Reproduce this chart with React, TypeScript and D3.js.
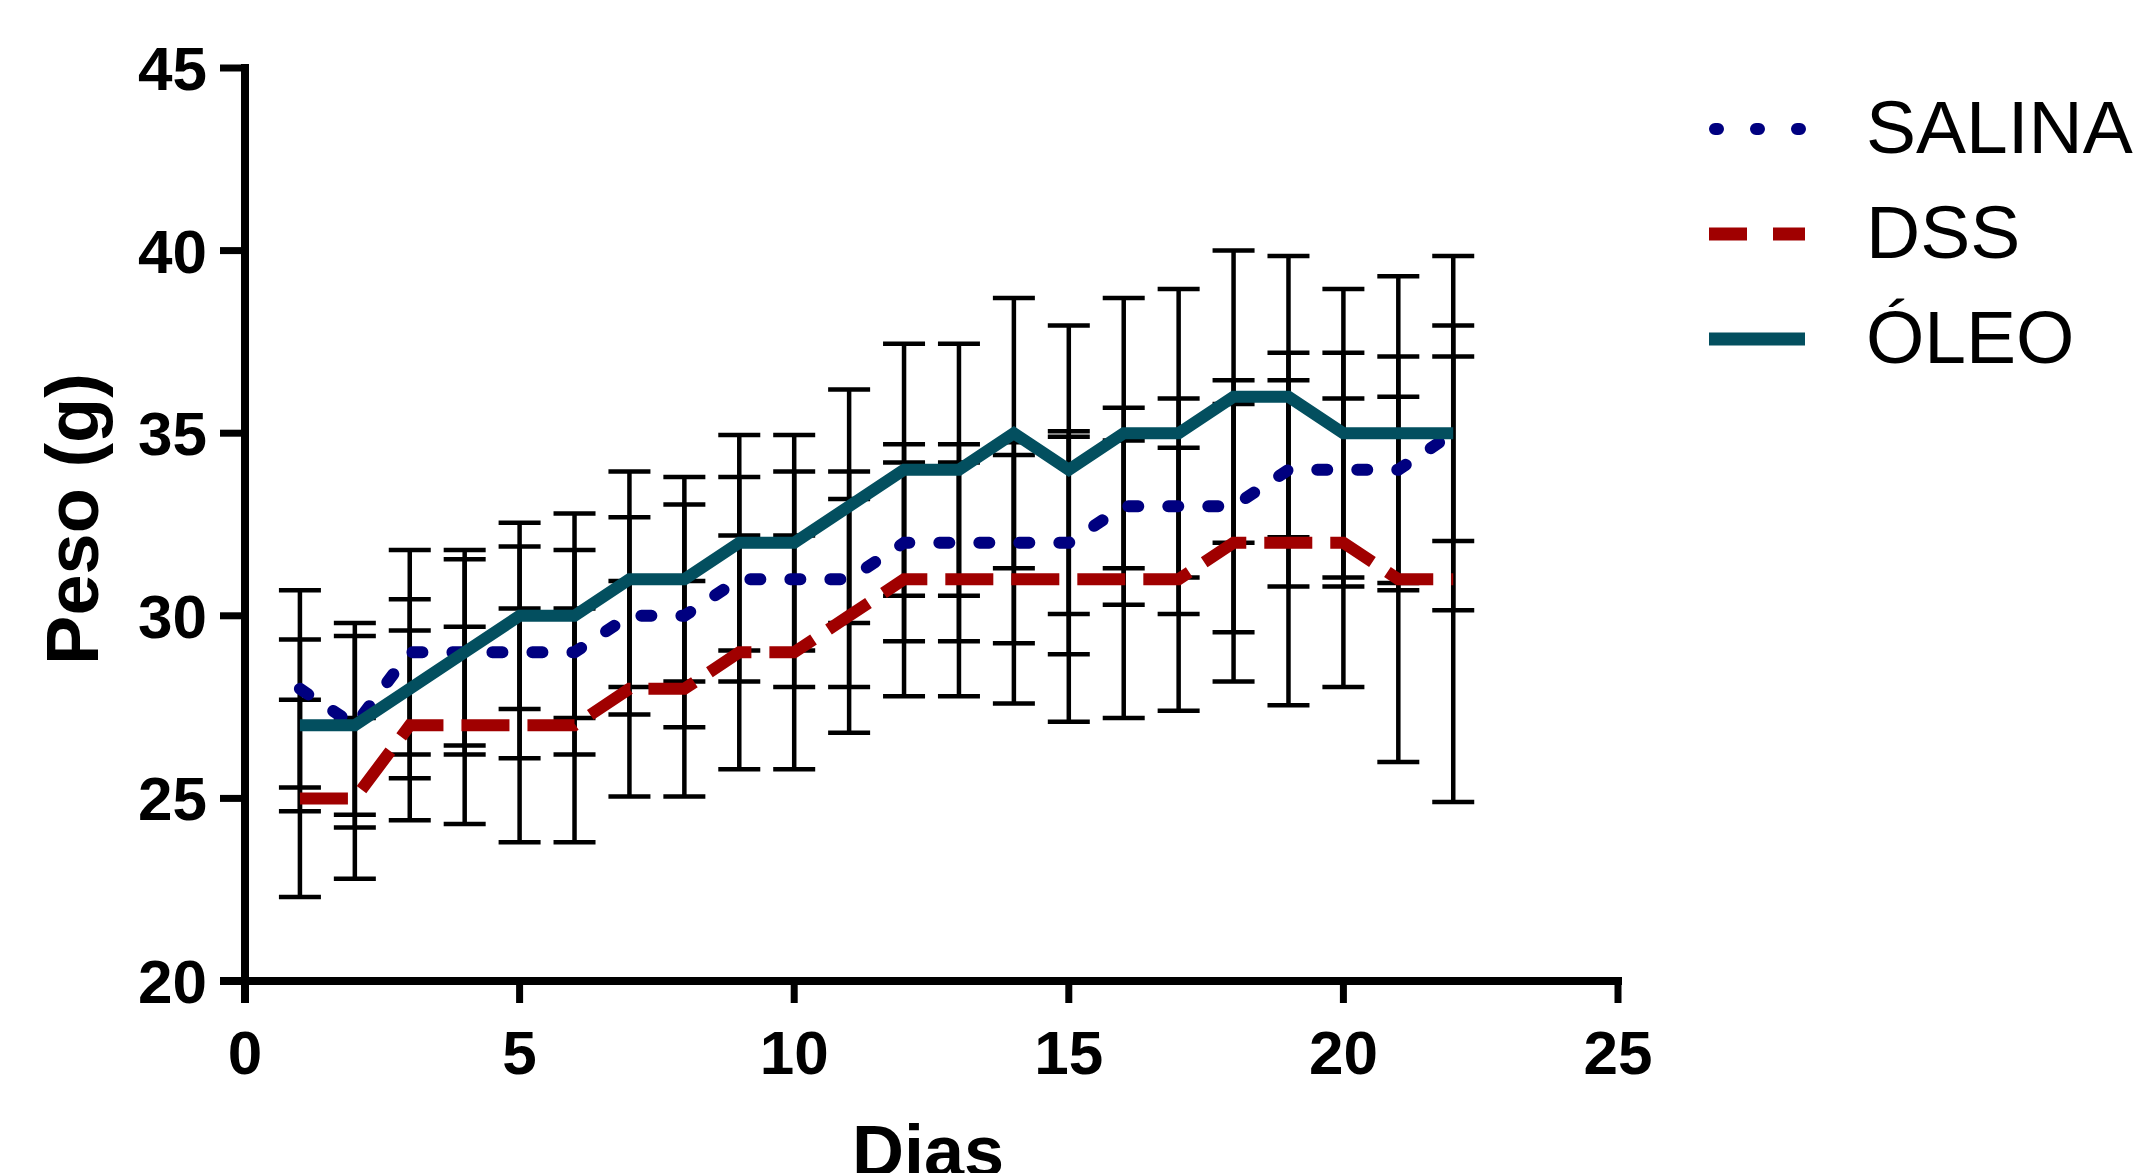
import React from 'react';
import * as d3 from 'd3';

// days of measurement
const days = [1, 2, 3, 4, 5, 6, 7, 8, 9, 10, 11, 12, 13, 14, 15, 16, 17, 18, 19, 20, 21, 22];

// mean weight (g) and SD per group
const salinaMean = [28, 27, 29, 29, 29, 29, 30, 30, 31, 31, 31, 32, 32, 32, 32, 33, 33, 33, 34, 34, 34, 35];
const salinaSD = [2.7, 2.8, 2.8, 2.8, 2.9, 2.8, 2.7, 3.05, 2.8, 2.95, 2.95, 2.7, 2.7, 2.75, 3.05, 2.7, 2.95, 3.45, 3.2, 3.2, 3.1, 2.95];
const dssMean = [25, 25, 27, 27, 27, 27, 28, 28, 29, 29, 30, 31, 31, 31, 31, 31, 31, 32, 32, 32, 31, 31];
const dssSD = [2.7, 2.2, 2.6, 2.7, 3.2, 3.2, 2.95, 2.95, 3.2, 3.2, 3.2, 3.2, 3.2, 3.4, 3.9, 3.8, 3.6, 3.8, 4.45, 3.95, 5.0, 6.1];
const oleoMean = [27, 27, 28, 29, 30, 30, 31, 31, 32, 32, 33, 34, 34, 35, 34, 35, 35, 36, 36, 35, 35, 35];
const oleoSD = [2.35, 2.45, 2.45, 2.55, 2.55, 2.8, 2.95, 2.8, 2.95, 2.95, 3.2, 3.45, 3.45, 3.7, 3.95, 3.7, 3.95, 4.0, 3.85, 3.95, 4.3, 4.85];

const xTicks = [0, 5, 10, 15, 20, 25];
const yTicks = [20, 25, 30, 35, 40, 45];

const seriesNames = ['SALINA', 'DSS', 'ÓLEO'];
const seriesColors = ['#000080', '#a00000', '#034f5f'];

const W = 2137;
const H = 1173;
const FONT = '"Liberation Sans", Arial, sans-serif';

const App = () => {
    const x = d3.scaleLinear().domain([0, 25]).range([245, 1618]);
    const y = d3.scaleLinear().domain([20, 45]).range([981, 68]);

    const series = [
        { name: seriesNames[0], color: seriesColors[0], mean: salinaMean, sd: salinaSD, dash: '10 30', cap: 'round', width: 12 },
        { name: seriesNames[1], color: seriesColors[1], mean: dssMean, sd: dssSD, dash: '48 18', cap: 'butt', width: 12 },
        { name: seriesNames[2], color: seriesColors[2], mean: oleoMean, sd: oleoSD, dash: null, cap: 'butt', width: 12 },
    ];

    const line = d3.line<number>()
        .x((_, i) => x(days[i]))
        .y(d => y(d));

    const legendDash = ['3 38', '38 26', null];
    const legendCap = ['round', 'butt', 'butt'];

    return (
        <svg width={W} height={H} style={{ position: 'absolute', left: 0, top: 0, background: '#fff' }}>
            {/* error bars */}
            {series.map(s => (
                <g key={'eb' + s.name} stroke="#000" strokeWidth={4.5}>
                    {days.map((d, i) => {
                        const cx = x(d);
                        const top = y(s.mean[i] + s.sd[i]);
                        const bot = y(s.mean[i] - s.sd[i]);
                        return (
                            <g key={d}>
                                <line x1={cx} x2={cx} y1={top} y2={bot} />
                                <line x1={cx - 21} x2={cx + 21} y1={top} y2={top} />
                                <line x1={cx - 21} x2={cx + 21} y1={bot} y2={bot} />
                            </g>
                        );
                    })}
                </g>
            ))}

            {/* series lines */}
            {series.map(s => (
                <path
                    key={'ln' + s.name}
                    d={line(s.mean) || ''}
                    fill="none"
                    stroke={s.color}
                    strokeWidth={s.width}
                    strokeDasharray={s.dash || undefined}
                    strokeLinecap={s.cap as any}
                    strokeLinejoin="miter"
                />
            ))}

            {/* y axis */}
            <line x1={x(0)} x2={x(0)} y1={y(45) - 4} y2={y(20) + 22} stroke="#000" strokeWidth={8} />
            {yTicks.map(t => (
                <g key={'yt' + t}>
                    <line x1={x(0) - 25} x2={x(0)} y1={y(t)} y2={y(t)} stroke="#000" strokeWidth={7} />
                    <text x={207} y={y(t) + 22} textAnchor="end" fontFamily={FONT} fontWeight="bold" fontSize={62}>{t}</text>
                </g>
            ))}

            {/* x axis */}
            <line x1={x(0) - 25} x2={x(25) + 4} y1={y(20)} y2={y(20)} stroke="#000" strokeWidth={8} />
            {xTicks.map(t => (
                <g key={'xt' + t}>
                    <line x1={x(t)} x2={x(t)} y1={y(20)} y2={y(20) + 22} stroke="#000" strokeWidth={7} />
                    <text x={x(t)} y={1074} textAnchor="middle" fontFamily={FONT} fontWeight="bold" fontSize={62}>{t}</text>
                </g>
            ))}

            {/* axis titles */}
            <text transform="translate(98,519) rotate(-90)" textAnchor="middle" fontFamily={FONT} fontWeight="bold" fontSize={74}>Peso (g)</text>
            <text x={928} y={1176} textAnchor="middle" fontFamily={FONT} fontWeight="bold" fontSize={72}>Dias</text>

            {/* legend */}
            {series.map((s, i) => {
                const ly = [129, 234, 339][i];
                return (
                    <g key={'lg' + s.name}>
                        <line
                            x1={i === 0 ? 1715 : 1709}
                            x2={1805}
                            y1={ly}
                            y2={ly}
                            stroke={s.color}
                            strokeWidth={i === 0 ? 12 : 13}
                            strokeDasharray={legendDash[i] || undefined}
                            strokeLinecap={legendCap[i] as any}
                        />
                        <text x={1866} y={ly + 24} fontFamily={FONT} fontSize={75}>{s.name}</text>
                    </g>
                );
            })}
        </svg>
    );
};

export default App;
